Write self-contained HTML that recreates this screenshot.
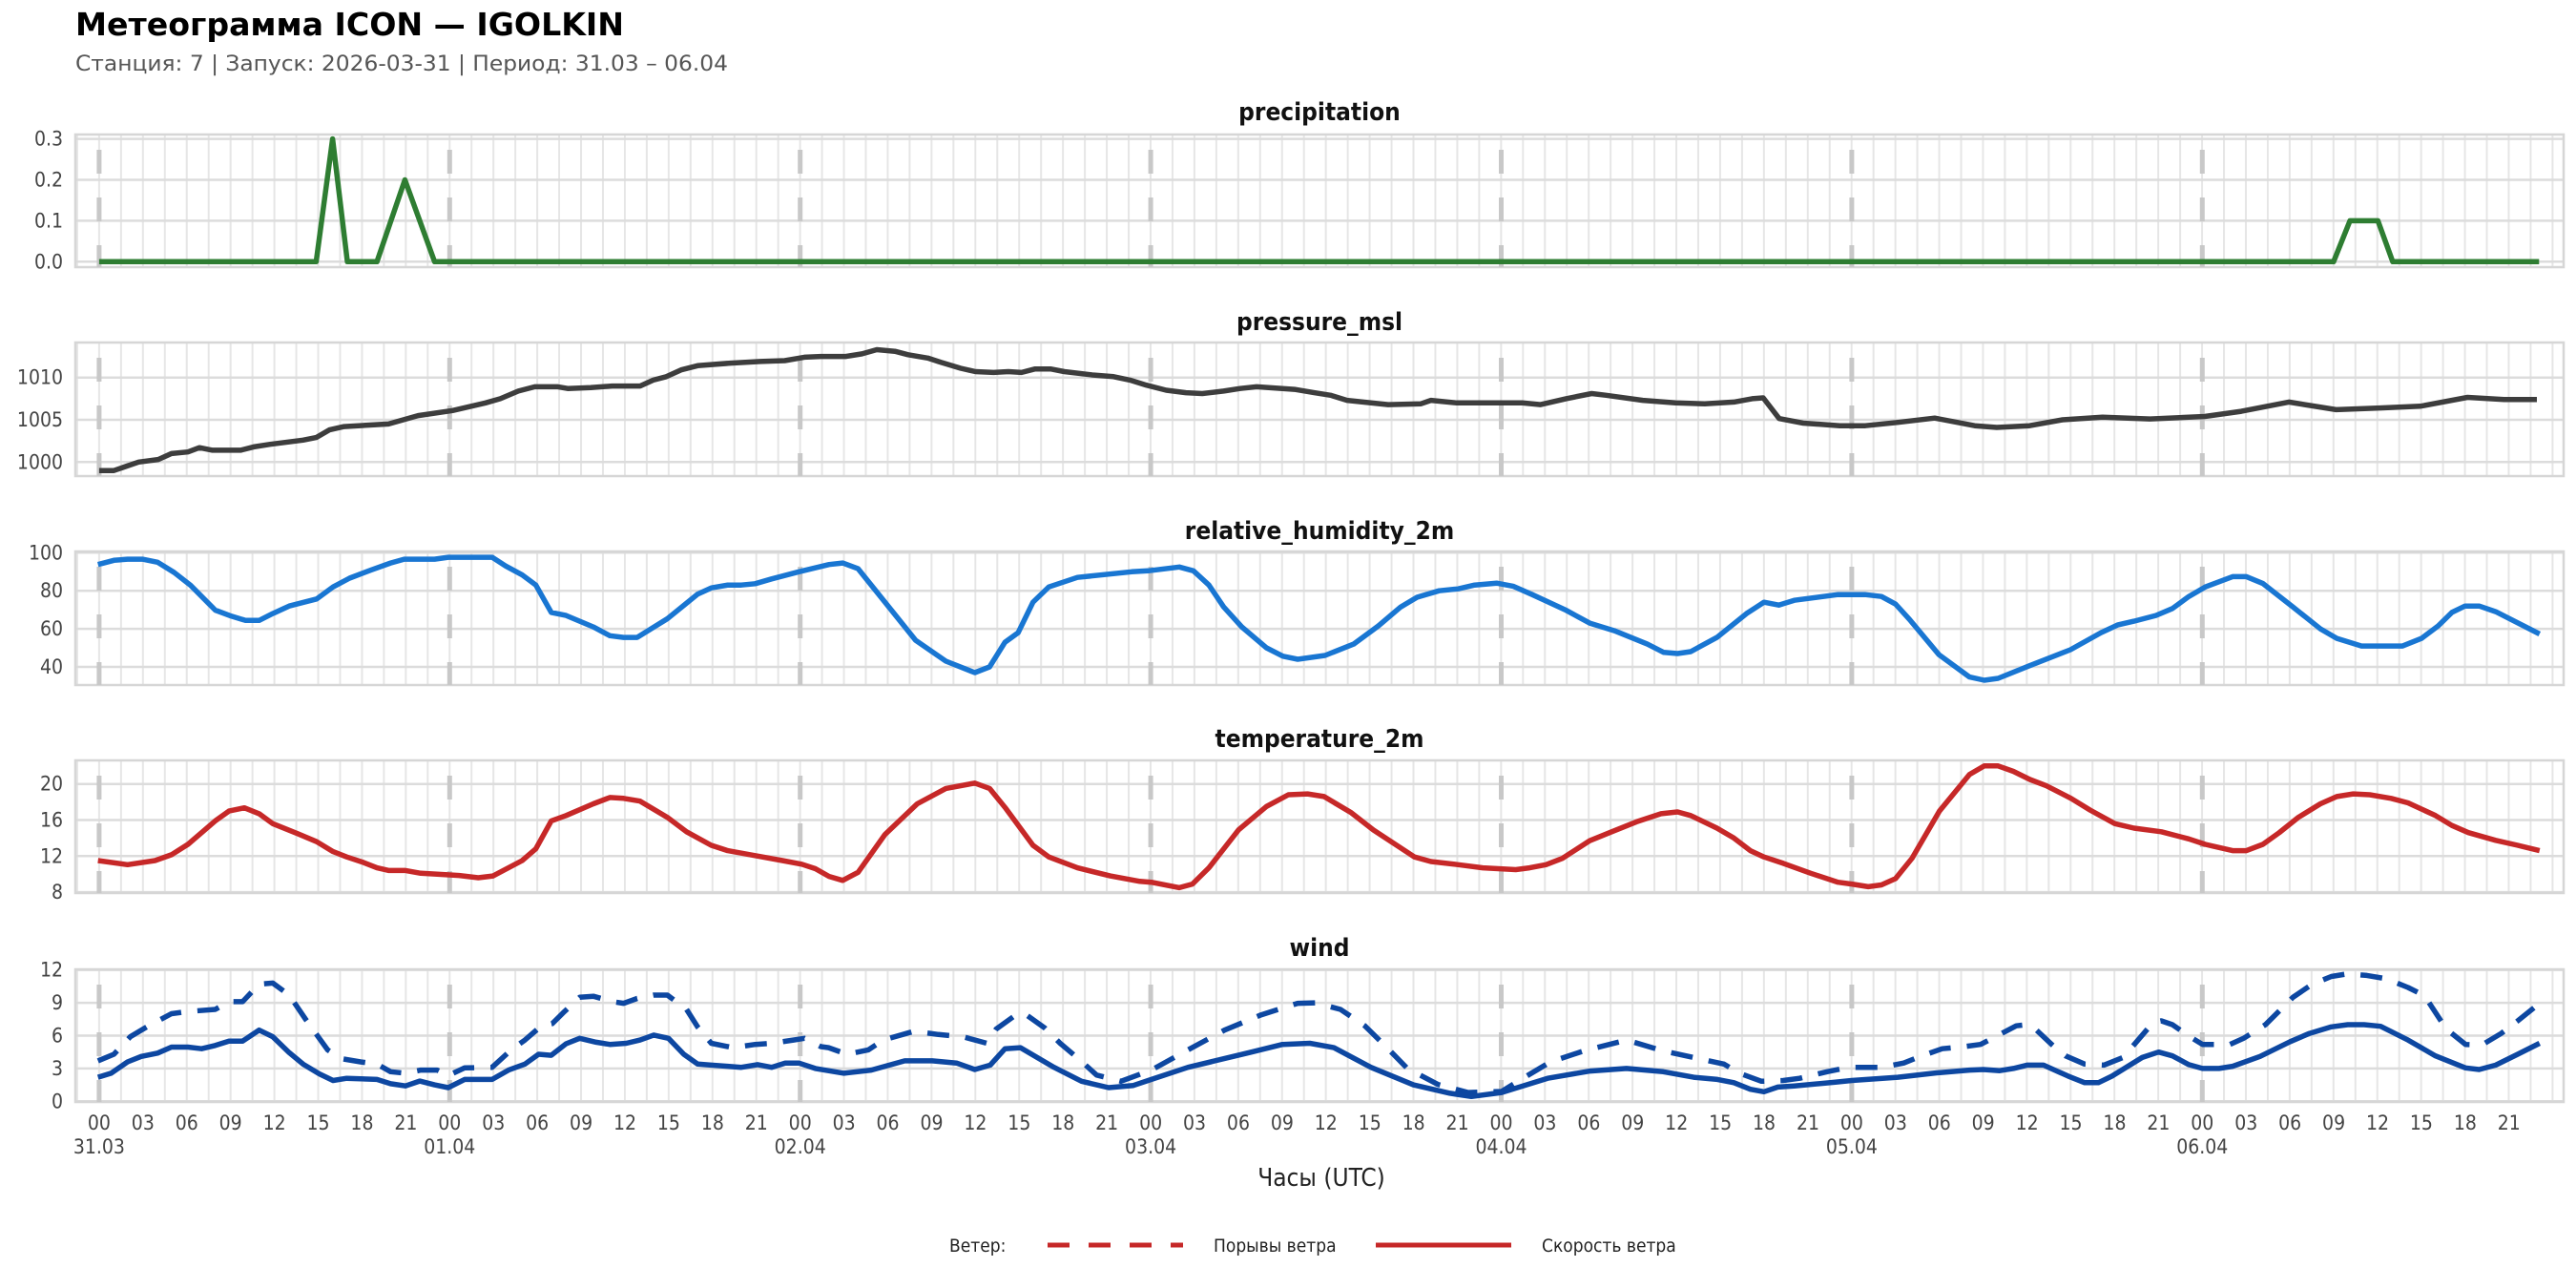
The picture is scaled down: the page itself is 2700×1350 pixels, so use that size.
<!DOCTYPE html>
<html><head><meta charset="utf-8">
<style>
html,body{margin:0;padding:0;background:#fff;}
svg{display:block;}
text{font-family:"DejaVu Sans Condensed","DejaVu Sans","Liberation Sans",sans-serif;}
</style></head>
<body>
<svg id="s" width="2700" height="1350" viewBox="0 0 2700 1350" xmlns="http://www.w3.org/2000/svg">
<rect width="2700" height="1350" fill="#fff"/>
<text x="79" y="37" font-size="33" font-weight="bold" fill="#000" textLength="575" lengthAdjust="spacingAndGlyphs">Метеограмма ICON — IGOLKIN</text>
<text x="79" y="74" font-size="22" fill="#555" textLength="684" lengthAdjust="spacingAndGlyphs">Станция: 7  | Запуск: 2026-03-31  | Период: 31.03 – 06.04</text>
<g id="g"></g>
<text x="1385" y="1243" font-size="26" fill="#222" text-anchor="middle">Часы (UTC)</text>
<text x="995" y="1312" font-size="19" fill="#222">Ветер:</text>
<line x1="1098" y1="1305" x2="1240" y2="1305" stroke="#c62828" stroke-width="5" stroke-dasharray="23 20"/>
<text x="1272" y="1312" font-size="19" fill="#222">Порывы ветра</text>
<line x1="1442" y1="1305" x2="1584" y2="1305" stroke="#c62828" stroke-width="5"/>
<text x="1616" y="1312" font-size="19" fill="#222">Скорость ветра</text>
</svg>
<script>
const NS="http://www.w3.org/2000/svg";
const g=document.getElementById('g');
function el(t,a,txt){const e=document.createElementNS(NS,t);for(const k in a)e.setAttribute(k,a[k]);if(txt!==undefined)e.textContent=txt;g.appendChild(e);return e;}
const L=79,R=2687;
const X=p=>103.9+(p-61)*1.7233;
const panels=[
 {name:"precipitation",top:141,bot:280,ty:117,y0:274.3,v0:0,k:429,ticks:[[0,"0.0"],[0.1,"0.1"],[0.2,"0.2"],[0.3,"0.3"]],color:"#2e7d32",
  series:[[[61,0],[193,0],[203,0.3],[212,0],[230,0],[247,0.2],[265,0],[1420,0],[1430,0.1],[1447,0.1],[1456,0],[1545,0]]]},
 {name:"pressure_msl",top:359,bot:499,ty:337,y0:484.3,v0:1000,k:8.86,ticks:[[1000,"1000"],[1005,"1005"],[1010,"1010"]],color:"#3d3d3d",
  series:[[[61,999],[70,999],[85,1000],[97,1000.3],[105,1001],[115,1001.2],[122,1001.7],[130,1001.4],[147,1001.4],[155,1001.8],[165,1002.1],[185,1002.6],[193,1002.9],[201,1003.8],[210,1004.2],[237,1004.5],[255,1005.5],[276,1006.1],[296,1007],[305,1007.5],[316,1008.4],[326,1008.9],[340,1008.9],[346,1008.7],[360,1008.8],[373,1009],[390,1009],[398,1009.7],[406,1010.1],[415,1010.9],[425,1011.4],[445,1011.7],[463,1011.9],[478,1012],[490,1012.4],[500,1012.5],[515,1012.5],[525,1012.8],[534,1013.3],[545,1013.1],[553,1012.7],[565,1012.3],[573,1011.8],[585,1011.1],[594,1010.7],[605,1010.6],[614,1010.7],[622,1010.6],[630,1011],[640,1011],[648,1010.7],[665,1010.3],[678,1010.1],[688,1009.7],[698,1009.1],[710,1008.5],[722,1008.2],[732,1008.1],[745,1008.4],[755,1008.7],[765,1008.9],[788,1008.6],[800,1008.2],[810,1007.9],[820,1007.3],[845,1006.8],[865,1006.9],[871,1007.3],[886.7,1007.0],[926.6,1007.0],[937.7,1006.8],[953.2,1007.5],[968.8,1008.1],[977.6,1007.9],[999.9,1007.3],[1019.8,1007.0],[1037.6,1006.9],[1055.3,1007.1],[1066.4,1007.5],[1073.1,1007.6],[1082.8,1005.15],[1097.5,1004.6],[1119.7,1004.3],[1135.2,1004.3],[1155.2,1004.7],[1177.4,1005.2],[1201.8,1004.3],[1215.2,1004.1],[1235.1,1004.3],[1255.1,1005.0],[1279.5,1005.3],[1308.4,1005.1],[1341.7,1005.4],[1363.9,1006.0],[1392.8,1007.1],[1421.6,1006.2],[1448.2,1006.4],[1472.7,1006.6],[1501.5,1007.65],[1523.7,1007.4],[1543.7,1007.4]]]},
 {name:"relative_humidity_2m",top:578,bot:718,ty:556,y0:579.3,v0:100,k:1.995,ticks:[[40,"40"],[60,"60"],[80,"80"],[100,"100"]],color:"#1976d2",
  series:[[[60.3,93.8],[70,96],[78.3,96.6],[87.3,96.6],[96.6,95],[106.6,89.6],[116.6,82.9],[131.6,69.8],[141.6,66.6],[150,64.4],[158.3,64.4],[166.6,68],[176.6,72],[193.3,75.7],[203.3,82],[213.3,86.6],[226.6,91],[238.3,94.6],[246.6,96.6],[265,96.6],[273.3,97.6],[300,97.6],[308.3,93],[318.3,88.3],[326.6,83],[336,68.6],[345,67],[361.6,61],[371.6,56.4],[380,55.5],[388.3,55.5],[406.6,65.3],[425,78.2],[433.3,81.5],[443.3,83],[451.6,83],[460,83.7],[470,86.2],[486.6,90],[505,93.8],[513.3,94.6],[522.6,91.6],[557.6,54],[576,43],[593.6,37],[602.6,40],[612,53],[620,58],[629,74],[638.6,82],[656,87],[689,90],[699,90.5],[718,92.5],[726.6,90.5],[736,83],[745,71.5],[756,61],[771,50],[781,45.6],[790,44],[806.6,46],[824,52],[839,61.5],[852.6,71.5],[862.6,76.6],[876,80],[887.6,81],[897.6,83],[911,84],[921,82.4],[932.6,78],[952.6,70],[967.6,63],[982.6,59],[1002.6,52],[1012.6,47.6],[1021,47],[1029,48],[1045,55.5],[1063,68],[1073.6,74],[1082.6,72.5],[1092,75],[1118.6,78],[1135,78],[1145,77],[1153.6,73],[1162,65],[1180,46.4],[1198.6,34.7],[1207.6,33],[1216,34],[1235,40.6],[1260,49],[1278.6,58],[1288.6,62],[1298.6,64],[1312,67],[1322,70.7],[1332,77],[1342,82],[1358.6,87.4],[1367,87.4],[1377,83.8],[1395.3,71.5],[1412,60],[1422,55],[1437,51],[1462,51],[1473.6,55],[1483.6,61.5],[1492,68.6],[1500,72],[1508.6,72],[1518.6,69],[1545.3,57.3]]]},
 {name:"temperature_2m",top:797,bot:936,ty:774,y0:821.7,v0:20,k:9.45,ticks:[[8,"8"],[12,"12"],[16,"16"],[20,"20"]],color:"#c62828",
  series:[[[60.3,11.5],[78.3,11.05],[95,11.5],[105,12.15],[115,13.3],[131.6,15.9],[140,17],[149.3,17.35],[158.3,16.7],[166.6,15.6],[181.6,14.5],[193.3,13.6],[203.3,12.5],[211.6,11.9],[221.6,11.3],[230,10.7],[237.3,10.4],[247.3,10.4],[256.6,10.1],[266.6,10],[280,9.85],[291.6,9.6],[300.6,9.8],[318.3,11.5],[326.6,12.8],[336,15.9],[345,16.5],[361.6,17.8],[371.6,18.5],[380,18.4],[390,18.1],[406.6,16.3],[418.3,14.7],[433.3,13.2],[443.3,12.6],[460,12.05],[476.6,11.5],[488.3,11.1],[496.6,10.6],[505,9.75],[513.3,9.3],[522.6,10.2],[539,14.4],[558.6,17.8],[576,19.5],[593.6,20.1],[602.6,19.5],[612,17.4],[629,13.2],[638.6,11.9],[656,10.7],[676,9.8],[694,9.2],[701,9.1],[718,8.5],[726,8.9],[736,10.7],[754,14.9],[771,17.5],[784.3,18.8],[796,18.9],[806,18.6],[822.6,16.8],[836,14.9],[861,11.9],[871,11.4],[887.6,11.05],[902.6,10.7],[922.6,10.5],[931,10.7],[941,11.05],[951,11.75],[967.6,13.7],[981,14.7],[996,15.8],[1011,16.7],[1021,16.9],[1029,16.5],[1045,15.1],[1055.3,14],[1065.3,12.6],[1073.6,11.9],[1085.3,11.2],[1102,10.1],[1118.6,9.1],[1127,8.9],[1137,8.6],[1145,8.8],[1153.6,9.5],[1163.6,11.75],[1180.3,17],[1198.6,21.05],[1207.6,22],[1216,22],[1225.3,21.4],[1235.3,20.5],[1245.3,19.8],[1260.3,18.4],[1272,17.1],[1287,15.6],[1298.6,15.1],[1315.3,14.7],[1332,13.9],[1342,13.3],[1358.6,12.6],[1367,12.6],[1377,13.3],[1387,14.6],[1398.6,16.3],[1412,17.8],[1422,18.6],[1432,18.9],[1442,18.8],[1455,18.4],[1465.3,17.9],[1482,16.5],[1492,15.4],[1502,14.6],[1518.6,13.75],[1532,13.2],[1545.3,12.6]]]},
 {name:"wind",top:1016,bot:1155,ty:993,y0:1154.3,v0:0,k:11.47,ticks:[[0,"0"],[3,"3"],[6,"6"],[9,"9"],[12,"12"]],color:"#0d47a1",
  series:[
   [[60.3,3.7],[70,4.3],[80,5.9],[90,6.8],[105,8.0],[115,8.2],[131.6,8.4],[140,9.1],[148.3,9.1],[158.3,10.7],[166.6,10.8],[176.6,9.7],[186.6,7.5],[200,4.7],[208.3,3.9],[220,3.6],[230,3.4],[238.3,2.7],[247.3,2.56],[256.6,2.85],[266.6,2.85],[273.3,2.35],[283.3,3.05],[300,3.1],[311.6,4.7],[320,5.6],[330,6.9],[336.6,7.1],[343.3,8.1],[353.3,9.5],[361.6,9.6],[373.3,9.1],[380,8.95],[388.3,9.4],[398.3,9.7],[406.6,9.7],[418.3,8.4],[425,6.8],[433.3,5.3],[446.6,4.9],[460,5.2],[470,5.3],[483.3,5.6],[490,5.75],[500,5.0],[504.7,4.9],[515.8,4.3],[528.8,4.7],[538,5.6],[556.6,6.4],[571.4,6.1],[586.2,5.9],[601,5.3],[606.6,6.6],[619.6,8.0],[625,7.9],[636.2,6.7],[645.5,5.3],[656.6,3.9],[667.7,2.4],[682.5,1.83],[701,2.85],[723.3,4.7],[745.5,6.5],[767.8,7.9],[790,8.95],[801,9.0],[816,8.4],[830.8,6.9],[843.7,5.0],[856.7,3.0],[875.2,1.54],[893.7,0.8],[914,0.9],[927,2.1],[943.7,3.6],[964,4.6],[990,5.6],[1012.3,4.6],[1030.8,4.0],[1049.3,3.4],[1058.6,2.56],[1072,1.83],[1085.3,1.9],[1095.3,2.1],[1112,2.7],[1125.3,3.1],[1145.3,3.1],[1158.6,3.5],[1168.6,4.1],[1182,4.8],[1195.3,5.0],[1205.3,5.2],[1217,6.1],[1227,6.9],[1233.6,7.0],[1238.6,6.6],[1248.6,5.2],[1257,4.15],[1268.6,3.4],[1280.3,3.3],[1292,4.0],[1302,5.75],[1310.3,7.2],[1315.3,7.35],[1322,7.0],[1332,5.96],[1340.3,5.2],[1357,5.2],[1365.3,5.75],[1378.6,7.0],[1395.3,9.5],[1407,10.7],[1418.6,11.4],[1428.6,11.65],[1440.3,11.5],[1452,11.2],[1465.3,10.4],[1475.3,9.65],[1488.6,6.6],[1500.3,5.2],[1510.3,5.15],[1522,6.2],[1532,7.35],[1545.3,8.95]],
   [[60.3,2.2],[68.3,2.56],[78.3,3.6],[86.6,4.1],[96.6,4.4],[105,4.95],[115,4.95],[123.3,4.8],[131.6,5.1],[140,5.5],[148.3,5.5],[158.3,6.5],[166.6,5.9],[176.6,4.45],[185,3.4],[195,2.5],[203.3,1.9],[211.6,2.1],[230,2.0],[238.3,1.6],[247.3,1.4],[256,1.85],[265,1.5],[273.3,1.25],[283.3,2.0],[300,2.0],[310,2.85],[320,3.4],[328.3,4.3],[336,4.2],[345,5.26],[353.3,5.75],[363.3,5.4],[371.6,5.2],[381.6,5.3],[390,5.6],[398.3,6.05],[407.3,5.75],[416.6,4.3],[425,3.4],[433.3,3.3],[443.3,3.2],[451.6,3.1],[461.6,3.35],[470,3.1],[478.3,3.5],[486.6,3.5],[496.6,3.0],[514,2.56],[530.6,2.85],[551,3.7],[567.7,3.7],[582.5,3.5],[593.6,2.9],[603,3.3],[612,4.8],[621.4,4.9],[641.8,3.1],[658.5,1.83],[675,1.25],[690,1.45],[701,2.0],[723.3,3.1],[760.4,4.45],[780.7,5.2],[797.4,5.3],[812,4.9],[834.5,3.1],[860.4,1.5],[882.6,0.73],[895.6,0.44],[914,0.8],[942,2.1],[967.8,2.76],[990,3.0],[1012.3,2.7],[1030.8,2.2],[1045.3,2.0],[1055.3,1.7],[1065.3,1.1],[1073.6,0.87],[1082,1.3],[1092,1.4],[1117,1.74],[1127,1.9],[1155,2.2],[1178.6,2.6],[1198.6,2.85],[1207,2.9],[1217,2.8],[1225.3,3.0],[1233.6,3.3],[1243.6,3.3],[1258.6,2.3],[1268.6,1.7],[1277,1.7],[1285.3,2.3],[1303.6,4.0],[1313.6,4.5],[1322,4.15],[1332,3.35],[1340.3,3.0],[1350.3,3.0],[1358.6,3.2],[1375.3,4.1],[1393.6,5.45],[1405.3,6.2],[1418.6,6.8],[1428.6,7.0],[1438.6,7.0],[1448.6,6.85],[1465.3,5.6],[1482,4.15],[1500.3,3.05],[1508.6,2.9],[1518.6,3.3],[1532,4.3],[1545.3,5.3]]
  ]}
];
panels.forEach((p,pi)=>{
  el('text',{x:1383,y:p.ty+9,'font-size':26,'font-weight':'bold','text-anchor':'middle',fill:'#111'},p.name);
  for(let x=103.9-22.96;x<=R;x+=22.96){ if(x<L) continue; el('line',{x1:x,y1:p.top,x2:x,y2:p.bot,stroke:'#e6e6e6','stroke-width':2}); }
  p.ticks.forEach(t=>{const y=p.y0-(t[0]-p.v0)*p.k;
    el('line',{x1:L,y1:y,x2:R,y2:y,stroke:'#dcdcdc','stroke-width':2.5});
    el('text',{x:66,y:y+7,'font-size':21,'text-anchor':'end',fill:'#444'},t[1]);});
  el('rect',{x:L,y:p.top,width:R-L,height:p.bot-p.top,fill:'none',stroke:'#d6d6d6','stroke-width':2.5});
  for(let d=0;d<7;d++){const x=103.9+d*367.4;
    el('line',{x1:x,y1:p.top+16,x2:x,y2:p.bot,stroke:'#c8c8c8','stroke-width':5,'stroke-dasharray':'25 25'});}
  p.series.forEach((s,si)=>{
    const pts=s.map(q=>X(q[0]).toFixed(1)+','+(p.y0-(q[1]-p.v0)*p.k).toFixed(1)).join(' ');
    const a={points:pts,fill:'none',stroke:p.color,'stroke-width':5.5,'stroke-linejoin':'round'};
    if(p.name==='wind'&&si===0)a['stroke-dasharray']='23 17';
    el('polyline',a);
  });
});
const hrs=['00','03','06','09','12','15','18','21'];
const dates=['31.03','01.04','02.04','03.04','04.04','05.04','06.04'];
for(let i=0;i<56;i++){const x=103.9+i*45.925;
  el('text',{x:x,y:1184,'font-size':21,'text-anchor':'middle',fill:'#444'},hrs[i%8]);
  if(i%8===0) el('text',{x:x,y:1209,'font-size':21,'text-anchor':'middle',fill:'#444'},dates[i/8]);}
</script>
</body></html>
